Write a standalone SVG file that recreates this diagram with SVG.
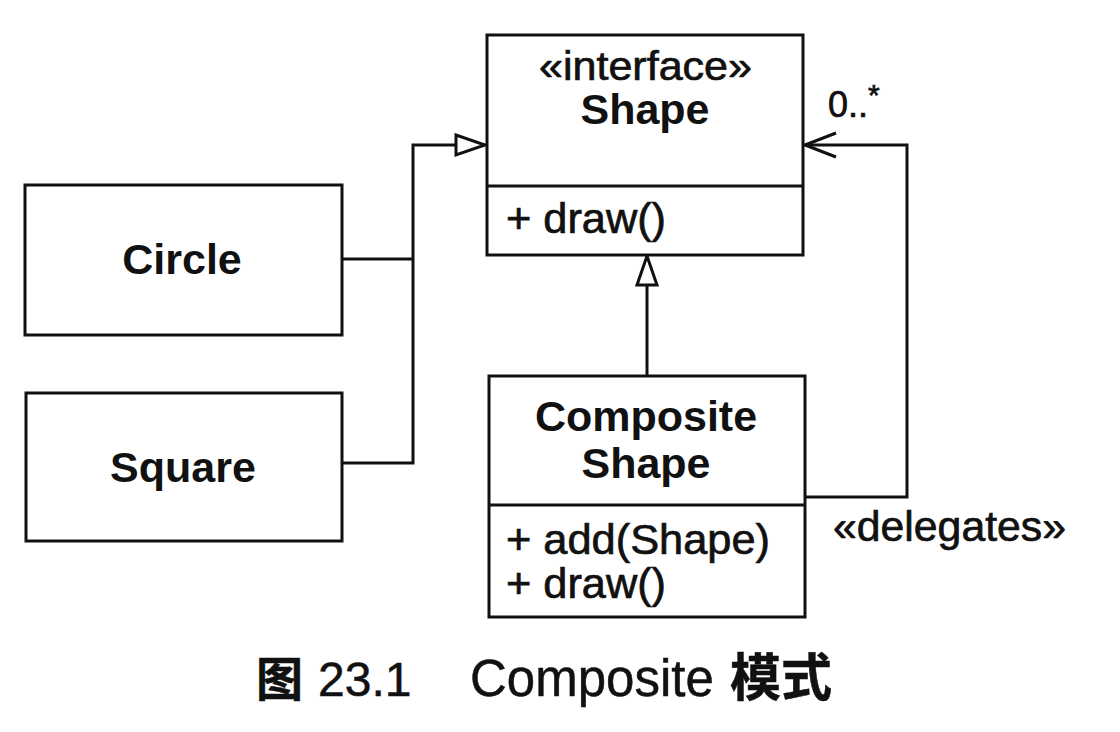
<svg xmlns="http://www.w3.org/2000/svg" width="1120" height="732" viewBox="0 0 1120 732">
<defs>
<style>
.box{fill:#fff;stroke:#111;stroke-width:3}
.ln{fill:none;stroke:#111;stroke-width:3}
.t{font-family:"Liberation Sans",Arial,sans-serif;fill:#111}
.b{font-weight:bold;font-size:43px;text-anchor:middle}
.r{font-size:42px;stroke:#111;stroke-width:0.7}
.cap{font-family:"Liberation Sans","Noto Sans CJK SC",sans-serif;fill:#111;stroke:#111;stroke-width:0.5}
</style>
<marker id="gen" markerWidth="34" markerHeight="26" refX="31" refY="13" orient="auto" markerUnits="userSpaceOnUse">
<path d="M2,3 L31,13 L2,23 Z" fill="#fff" stroke="#111" stroke-width="3"/>
</marker>
<marker id="open" markerWidth="36" markerHeight="30" refX="33" refY="15" orient="auto" markerUnits="userSpaceOnUse">
<path d="M2,3 L33,15 L2,27" fill="none" stroke="#111" stroke-width="3"/>
</marker>
</defs>
<rect width="1120" height="732" fill="#fff"/>
<g id="connectors">
<path class="ln" d="M342,259 H413 M342,463 H413 V145 H485" marker-end="url(#gen)"/>
<path class="ln" d="M647,376 V256" marker-end="url(#gen)"/>
<path class="ln" d="M805,497 H907 V145 H805" marker-end="url(#open)"/>
<text class="t r" x="828" y="117" style="font-size:36px">0..<tspan dy="-12" style="font-size:30px">*</tspan></text>
<text class="t r" x="833" y="541" textLength="233" lengthAdjust="spacingAndGlyphs">«delegates»</text>
</g>
<g id="shape">
<rect class="box" x="487" y="35" width="316" height="220"/>
<line class="ln" x1="487" y1="186" x2="803" y2="186"/>
<text class="t r" x="539" y="80" style="font-size:40px" textLength="213" lengthAdjust="spacingAndGlyphs">«interface»</text>
<text class="t b" x="645" y="124">Shape</text>
<text class="t r" x="506" y="233" textLength="160" lengthAdjust="spacingAndGlyphs">+ draw()</text>
</g>
<g id="circle">
<rect class="box" x="25" y="185" width="317" height="150"/>
<text class="t b" x="182" y="274">Circle</text>
</g>
<g id="square">
<rect class="box" x="26" y="393" width="316" height="148"/>
<text class="t b" x="183" y="482">Square</text>
</g>
<g id="composite">
<rect class="box" x="489" y="376" width="316" height="241"/>
<line class="ln" x1="489" y1="505" x2="805" y2="505"/>
<text class="t b" x="646" y="431">Composite</text>
<text class="t b" x="646" y="478">Shape</text>
<text class="t r" x="506" y="554" textLength="264" lengthAdjust="spacingAndGlyphs">+ add(Shape)</text>
<text class="t r" x="506" y="598" textLength="160" lengthAdjust="spacingAndGlyphs">+ draw()</text>
</g>
<g id="caption">
<text class="cap" y="696"><tspan x="256" font-weight="bold" style="font-size:47px">图</tspan><tspan x="318" style="font-size:48px">23.1</tspan><tspan x="470" style="font-size:51px">Composite</tspan><tspan x="730" font-weight="bold" style="font-size:51px">模式</tspan></text>
</g>
</svg>
